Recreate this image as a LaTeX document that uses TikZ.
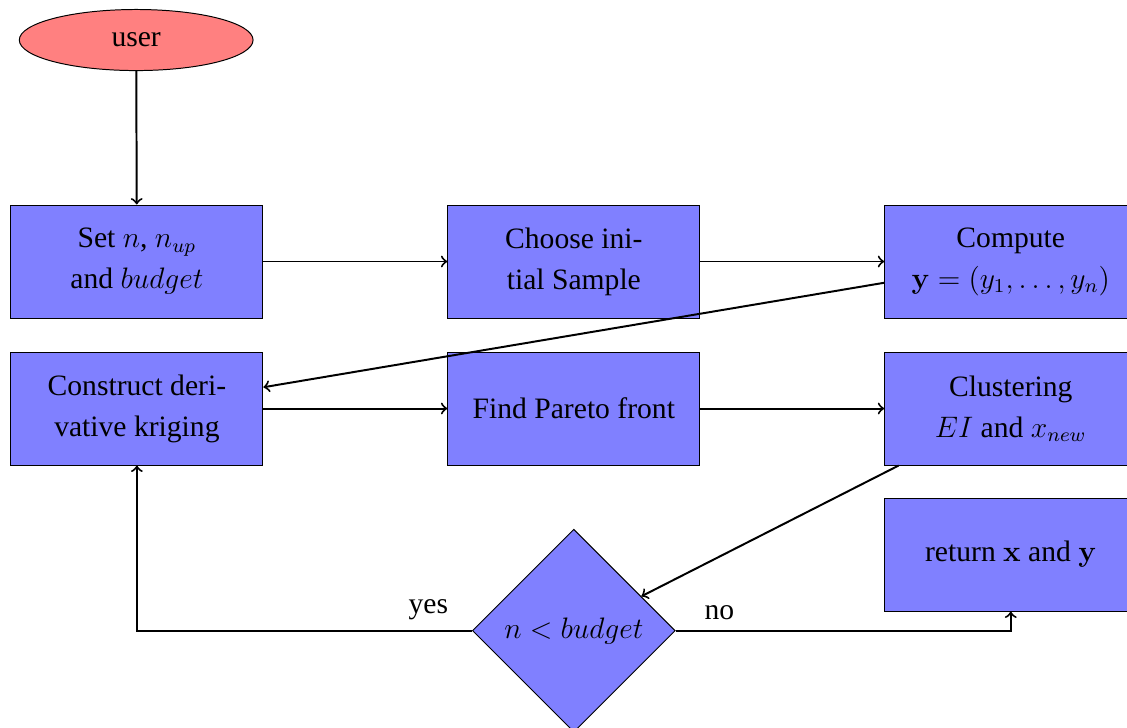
\documentclass[12pt,tikz,border=0pt]{standalone}
\usepackage{amsmath}
\usepackage[no-math]{fontspec}
\setmainfont{Liberation Serif}
\usepackage{xcolor}
\usetikzlibrary{shapes.geometric, positioning}

\tikzset{
	block/.style={rectangle, draw, fill=blue!50, minimum width=3.59cm, minimum height=1.61cm, align=center, font=\fontsize{12}{16.6}\selectfont},
	decision/.style={diamond, draw, fill=blue!50, minimum size=2.89cm, inner sep=0pt, aspect=1},
	startnode/.style={ellipse, draw, fill=red!50, minimum width=3.33cm, minimum height=0.87cm},
	line/.style={draw, thick, ->},
}

\begin{document}
\begin{tikzpicture}[node distance=2.62cm]
		\useasboundingbox (0,0) rectangle (16.054,-10.356);
		\node[startnode] (user) at (1.94,-0.57) {user};
		\node[block] (init) at (1.95,-3.725) {Set $n$, $n_{up}$\\ and $budget$};
		\node[block, right=of init] (sample) {Choose ini-\\tial Sample};
		\node[block, right=of sample] (compute) {Compute\\ $\mathbf{y}=(y_1,\ldots,y_n)$};
		\node[block, below=0.47cm of init] (kriging) {Construct deri-\\vative kriging};
		\node[block, right=of kriging] (pareto) {Find Pareto front};
		\node[block, right=of pareto] (cluster) {Clustering\\ $EI$ and $x_{new}$};
		\node[block, below=0.456cm of cluster] (output) {return $\mathbf{x}$ and $\mathbf{y}$};
		\node[decision, below=0.9cm of pareto] (budget) {$n<budget$};
		
		\draw[line] (user) -- (init);
		\draw[line] (init) -- (sample);
		\draw[line] (sample) -- (compute);
		\draw[line] (compute) -- (kriging);
		\draw[line] (kriging) -- (pareto);
		\draw[line] (pareto) -- (cluster);
		\draw[line] (cluster) -- (budget);
		\draw[line] (budget) -| node[above, pos=0.065] {yes} (kriging);
		\draw[line] (budget) -| node[above, pos=0.065] {no} (output);
\end{tikzpicture}
\end{document}
